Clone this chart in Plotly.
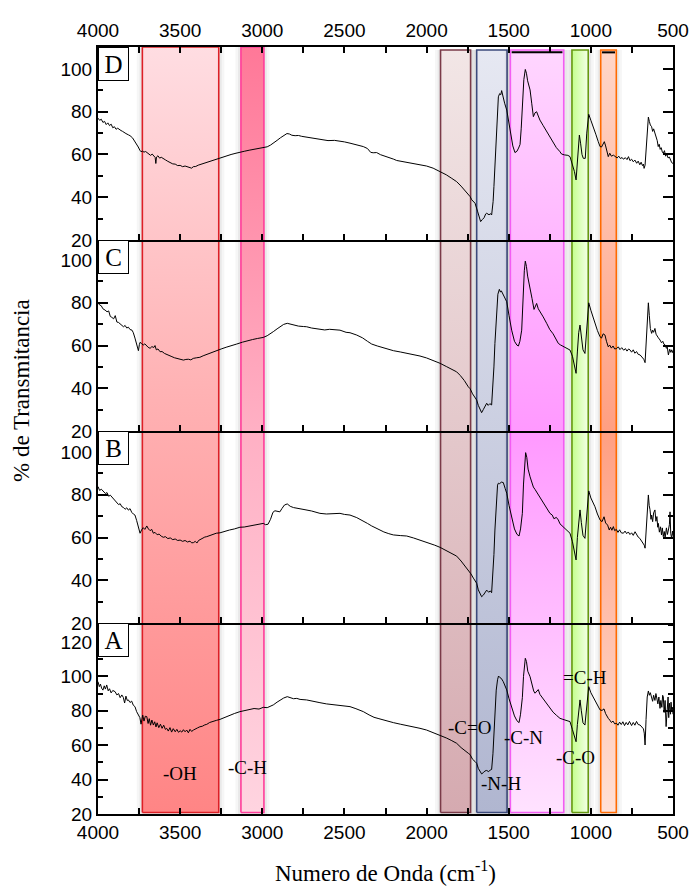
import plotly.graph_objects as go

# ---------------- DATA ----------------
panel_names = ["A", "B", "C", "D"]

spec_A = [(4000, 96.9), (3992, 94), (3985, 95.5), (3978, 93.1), (3970, 92), (3962, 94.5), (3955, 92.6), (3947, 95),
          (3938, 91.6), (3930, 92.8), (3920, 90.4), (3910, 91.8), (3896, 91.1), (3885, 89.2), (3875, 90), (3865, 87.6),
          (3855, 89.2), (3846, 87.8), (3838, 84.5), (3830, 88.5), (3822, 86), (3815, 86.3), (3805, 84.8), (3795, 85.6),
          (3785, 83.2), (3775, 82.4), (3765, 79.5), (3755, 77.6), (3745, 76), (3738, 72.2), (3734, 74.7), (3728, 77.5),
          (3720, 74), (3712, 76.8), (3703, 76.6), (3695, 72.6), (3688, 75.4), (3680, 71.6), (3672, 74.6), (3663, 71.7),
          (3655, 73.6), (3647, 70.6), (3640, 73), (3630, 70.2), (3620, 72.2), (3610, 69.8), (3600, 71.6), (3590, 69.2),
          (3582, 69.8), (3572, 68.2), (3562, 70.2), (3552, 67.6), (3542, 69.6), (3530, 67.8), (3520, 69.2), (3510, 67.5),
          (3500, 68.4), (3490, 67.6), (3480, 69), (3470, 67.8), (3460, 68.8), (3450, 67.2), (3440, 69.2), (3430, 68),
          (3419, 68.8), (3408, 69.6), (3395, 70), (3380, 70.7), (3365, 71), (3350, 71.8), (3338, 72.1), (3320, 73.2),
          (3300, 73.6), (3280, 74.4), (3257, 75), (3230, 76.2), (3200, 77.2), (3170, 78.4), (3136, 79.5), (3110, 80),
          (3080, 80.6), (3050, 81.3), (3020, 81), (2994, 82), (2970, 81.8), (2950, 82.6), (2933, 83.4), (2910, 85),
          (2890, 86.4), (2870, 87.4), (2848, 88.2), (2830, 87.6), (2810, 87), (2790, 87.2), (2770, 86.6), (2730, 86.3),
          (2700, 85.6), (2680, 85.2), (2649, 84.7), (2610, 84), (2570, 83.6), (2527, 83.4), (2500, 82.8), (2466, 82.4),
          (2430, 81.2), (2385, 79.5), (2350, 77.6), (2320, 76.2), (2290, 75.4), (2250, 74.2), (2202, 73.1), (2160, 72.2),
          (2120, 71.5), (2080, 70.6), (2040, 69.8), (2000, 68.8), (1960, 67.4), (1918, 65.9), (1880, 64.2), (1850, 62.8),
          (1817, 61.1), (1790, 58.6), (1765, 57), (1746, 55.3), (1735, 54.5), (1720, 51.8), (1705, 50.5), (1695, 49.5),
          (1685, 46.5), (1675, 44.5), (1665, 43.3), (1655, 44), (1645, 45), (1634, 45.3), (1622, 44.6), (1612, 45.6),
          (1604, 45.9), (1596, 55), (1590, 66), (1584, 76.6), (1576, 92), (1568, 98), (1562, 100.2), (1555, 99.4),
          (1545, 98.8), (1533, 96.9), (1522, 94.6), (1512, 92.1), (1498, 87), (1482, 82.4), (1465, 77), (1450, 74.2),
          (1437, 73.1), (1428, 78), (1417, 87.6), (1410, 100), (1403, 108), (1399, 110.5), (1392, 108.6), (1384, 103),
          (1370, 99.8), (1358, 94.5), (1348, 91.5), (1340, 90.2), (1330, 91.5), (1320, 92.3), (1310, 89.5), (1295, 87.6),
          (1280, 85.8), (1269, 84.4), (1250, 81.5), (1230, 79.2), (1210, 77.4), (1188, 75.6), (1170, 75), (1150, 74.4),
          (1127, 73.7), (1112, 69), (1100, 65), (1090, 62), (1082, 72), (1074, 82), (1066, 86.3), (1058, 80),
          (1048, 73), (1036, 71.7), (1028, 80), (1020, 89), (1013, 94), (1000, 90.5), (988, 88.5), (975, 86.3),
          (960, 83), (944, 80.5), (932, 80.2), (920, 81.1), (910, 78.3), (900, 76.4), (894, 75.6), (885, 74.6),
          (875, 73.2), (865, 74), (855, 72.4), (843, 72.7), (835, 71.6), (825, 73.4), (815, 72), (805, 73.6),
          (795, 71.4), (785, 73.2), (775, 71.8), (765, 73.8), (761, 72.7), (752, 71.4), (742, 73.2), (732, 71.6),
          (722, 73.8), (712, 72), (700, 71.7), (690, 70.4), (680, 69.5), (675, 67), (670, 60.1), (664, 75),
          (657, 88), (650, 91.5), (644, 89), (638, 90.5), (630, 88.2), (624, 85.5), (618, 89), (610, 86),
          (604, 90), (599, 87.2), (592, 84), (586, 88), (579, 81.4), (574, 86), (568, 82), (563, 89),
          (559, 88.2), (554, 79), (548, 86), (542, 70.8), (536, 79), (530, 88), (526, 76), (522, 84.4),
          (515, 78), (512, 85), (508, 80.5), (503, 82), (500, 78)]

spec_B = [(4000, 83.8), (3990, 82), (3980, 82.6), (3968, 81.4), (3955, 80.6), (3945, 81), (3935, 79.3), (3925, 79.8),
          (3907, 78.3), (3895, 77.2), (3885, 76.5), (3875, 75.4), (3865, 75.8), (3855, 74.4), (3846, 74.1), (3835, 73.2),
          (3825, 73.9), (3815, 72.8), (3805, 73.5), (3795, 71.8), (3785, 71), (3775, 70.5), (3765, 68), (3755, 64.5),
          (3748, 62.5), (3744, 62), (3735, 63.5), (3725, 64.6), (3715, 63.8), (3703, 65.4), (3693, 64), (3683, 63.2),
          (3673, 63.8), (3663, 62), (3653, 62.4), (3640, 61.3), (3628, 61.6), (3615, 60.6), (3602, 60.1), (3590, 60.4),
          (3575, 59.5), (3560, 59.8), (3545, 59), (3530, 59.3), (3515, 58.6), (3500, 58.8), (3485, 58.2), (3470, 58.6),
          (3455, 57.9), (3440, 58.3), (3430, 57.5), (3419, 57.6), (3408, 58.2), (3398, 57.4), (3388, 58.6), (3375, 59.2),
          (3360, 59.6), (3350, 60.2), (3338, 60.4), (3320, 61), (3300, 61.4), (3280, 62), (3257, 62.2), (3230, 62.9),
          (3200, 63.5), (3170, 64), (3136, 64.8), (3110, 64.9), (3080, 65.3), (3054, 65.9), (3030, 66.2), (3010, 66.3),
          (2994, 66.6), (2980, 66), (2965, 66.2), (2950, 68.5), (2935, 71.8), (2923, 72.5), (2910, 72.2), (2893, 72.0),
          (2880, 73.6), (2865, 75.2), (2848, 75.7), (2830, 74.6), (2810, 74), (2790, 73.8), (2770, 73.6), (2740, 73),
          (2700, 72.4), (2680, 72), (2649, 71.3), (2610, 71), (2570, 71.2), (2527, 71.3), (2500, 70.8), (2466, 70.5),
          (2425, 69.3), (2390, 68), (2360, 66.6), (2334, 65.4), (2300, 64), (2260, 62.6), (2230, 61.8), (2202, 61.2),
          (2160, 60.9), (2121, 60.7), (2080, 59.8), (2040, 58.8), (2000, 58), (1979, 57.3), (1950, 56.4), (1918, 55.4),
          (1880, 53.8), (1850, 52.6), (1817, 51.3), (1790, 49), (1765, 46.5), (1746, 44.8), (1730, 43), (1715, 41),
          (1695, 38.6), (1685, 35.5), (1675, 33.5), (1665, 32.3), (1655, 33), (1645, 34.5), (1634, 35.4), (1622, 34.4),
          (1612, 35), (1604, 34.2), (1596, 42), (1590, 52), (1584, 63.5), (1576, 78), (1568, 84.5), (1563, 85.4),
          (1555, 85.2), (1545, 85.9), (1533, 85.7), (1522, 83), (1512, 80.7), (1498, 75), (1482, 69.7), (1465, 64),
          (1450, 61.5), (1437, 60.7), (1428, 64), (1417, 71.3), (1410, 85), (1403, 95), (1397, 99.7), (1390, 97.5),
          (1382, 92), (1370, 88.4), (1360, 85.5), (1350, 83.6), (1340, 82.5), (1325, 80.6), (1310, 79.1), (1290, 76),
          (1270, 73.6), (1249, 71.3), (1235, 70.5), (1225, 68.8), (1210, 69.4), (1198, 68.2), (1188, 66.4), (1170, 65),
          (1150, 63.6), (1127, 62), (1112, 58), (1100, 53.5), (1090, 49.5), (1082, 60), (1074, 69), (1066, 72.9),
          (1058, 67), (1048, 61), (1036, 59.6), (1028, 68), (1020, 77), (1013, 81.8), (1000, 78.5), (988, 76.5),
          (975, 74.4), (960, 71), (944, 68.2), (932, 67.4), (920, 69.7), (910, 66.8), (898, 65.8), (888, 63.5),
          (880, 64.8), (872, 63.4), (863, 65.1), (855, 63.2), (845, 63.8), (835, 62.4), (825, 63.6), (815, 62.2),
          (802, 62), (792, 63), (782, 61.8), (772, 62.6), (762, 61.4), (752, 62.2), (742, 61), (731, 62.7),
          (722, 61.1), (712, 60.2), (702, 59.6), (692, 58.4), (682, 57.2), (675, 56.4), (670, 55), (664, 63),
          (657, 75), (650, 79.9), (645, 75), (640, 73), (634, 68.5), (630, 70.5), (624, 67.4), (618, 71.5),
          (610, 72.9), (604, 67.6), (598, 69.8), (593, 64.8), (589, 66.6), (583, 62.5), (576, 65), (570, 61.2),
          (565, 64.5), (559, 60.4), (553, 62.8), (548, 59.8), (540, 64.5), (534, 61.4), (528, 63.5), (522, 66),
          (518, 72), (514, 62), (508, 59.6), (503, 63), (500, 61)]

spec_C = [(4000, 80), (3990, 79), (3980, 78.6), (3970, 77.2), (3957, 76.6), (3945, 75.8), (3935, 76.2), (3925, 73.6),
          (3916, 73.2), (3905, 72.5), (3895, 74), (3885, 71), (3875, 70.8), (3865, 70.2), (3855, 69.5), (3845, 68.8),
          (3835, 69.4), (3825, 68.2), (3815, 68.6), (3805, 67.5), (3793, 67.2), (3785, 66), (3775, 63.5), (3768, 61),
          (3760, 59.5), (3754, 57.6), (3748, 60.5), (3744, 61.5), (3735, 61), (3725, 60.2), (3715, 60.8), (3705, 59.8),
          (3695, 59.2), (3683, 58.7), (3672, 59.5), (3660, 59.1), (3653, 60), (3645, 58), (3635, 58.4), (3622, 57.1),
          (3610, 57.2), (3595, 56.3), (3580, 55.9), (3565, 55.4), (3550, 54.8), (3535, 54.3), (3521, 54), (3505, 53.7),
          (3490, 53.4), (3480, 53.2), (3465, 53.5), (3450, 53.6), (3435, 53.3), (3420, 54), (3399, 54.3), (3380, 54.5),
          (3360, 55.2), (3340, 55.8), (3320, 56.6), (3300, 57.2), (3277, 57.9), (3250, 58.4), (3220, 59.2), (3190, 59.8),
          (3156, 60.7), (3120, 61.6), (3090, 62.3), (3060, 62.8), (3030, 63.3), (2994, 63.8), (2970, 64.6), (2950, 65.5),
          (2933, 66.5), (2910, 67.8), (2890, 69), (2870, 69.9), (2848, 70.4), (2830, 70), (2810, 69.4), (2780, 69.1),
          (2750, 68.9), (2730, 68.8), (2700, 68.2), (2680, 68), (2649, 67.6), (2620, 67.3), (2590, 67.6), (2560, 67.4),
          (2527, 67.2), (2490, 66.2), (2466, 66), (2425, 64.9), (2390, 63.6), (2360, 62), (2334, 60.7), (2300, 59.8),
          (2260, 58.8), (2230, 58.2), (2202, 57.6), (2160, 57), (2120, 56.4), (2080, 55.8), (2040, 55.1), (2000, 54.2),
          (1960, 53), (1918, 51.7), (1880, 50.2), (1850, 49), (1817, 47.7), (1795, 46), (1770, 43.6), (1746, 40.7),
          (1735, 39.8), (1720, 37.4), (1705, 35.6), (1695, 34.5), (1685, 32), (1675, 30), (1665, 28.6), (1655, 30),
          (1645, 31.5), (1634, 33), (1625, 32), (1615, 32.8), (1604, 32.2), (1596, 40), (1590, 50), (1584, 61),
          (1575, 76), (1566, 84), (1557, 86.3), (1550, 85), (1545, 85.6), (1533, 83.5), (1522, 82), (1512, 80.5),
          (1498, 74), (1482, 67.2), (1465, 62), (1450, 60.2), (1441, 59.8), (1432, 62), (1421, 67.2), (1413, 83),
          (1405, 95), (1399, 99.5), (1392, 97), (1385, 92.5), (1370, 87.5), (1358, 82), (1346, 76.9), (1338, 78.5),
          (1330, 79.7), (1320, 77.2), (1305, 75.5), (1290, 73.4), (1269, 70.4), (1250, 67.5), (1230, 65.5), (1215, 63.6),
          (1198, 61), (1185, 60.3), (1170, 59.6), (1150, 58.8), (1127, 57.9), (1112, 55), (1100, 51), (1090, 47),
          (1082, 57), (1074, 66), (1066, 69.6), (1058, 64), (1048, 58), (1036, 56.3), (1028, 66), (1020, 75.5),
          (1013, 80), (1000, 76.5), (990, 74), (975, 70.4), (960, 67), (944, 64.1), (935, 63.5), (925, 65.5),
          (914, 64.9), (905, 62), (894, 59.4), (885, 60.2), (875, 58.8), (865, 59.8), (855, 58.4), (843, 58.6),
          (833, 59.4), (823, 58.1), (812, 59), (800, 57.8), (790, 58.6), (780, 57.4), (770, 58.4), (761, 57.9),
          (752, 56.9), (742, 58), (732, 56.4), (722, 57.2), (712, 55.9), (700, 55.6), (692, 55), (685, 54.2),
          (678, 53.6), (670, 52), (664, 62), (657, 75), (650, 80), (644, 74), (638, 68), (630, 65.7),
          (624, 67.2), (618, 66.2), (610, 68), (603, 65.3), (596, 64.2), (589, 63.6), (579, 62.6), (570, 61.3),
          (562, 62), (555, 60.6), (548, 60.3), (540, 58.7), (535, 59.3), (528, 55.6), (520, 58.3), (513, 56.8),
          (508, 58), (500, 56.5)]

spec_D = [(4000, 77), (3990, 76), (3980, 76.5), (3970, 75), (3960, 75.5), (3950, 74), (3940, 74.8), (3930, 73.5),
          (3920, 74.2), (3910, 72.5), (3900, 73), (3890, 71.8), (3880, 72.3), (3870, 71.5), (3860, 71.2), (3850, 70.8),
          (3840, 70.2), (3830, 69.8), (3815, 69.2), (3805, 68.8), (3790, 67.8), (3775, 66.2), (3765, 65), (3755, 63.5),
          (3745, 62), (3738, 61.3), (3730, 61.6), (3720, 61.1), (3710, 61.4), (3700, 60.9), (3690, 60.5), (3680, 59.6),
          (3670, 60.2), (3660, 59.2), (3652, 58.6), (3648, 55.8), (3644, 58.8), (3635, 59.4), (3625, 58.3), (3615, 58.7),
          (3600, 57.8), (3590, 57.5), (3575, 56.8), (3560, 56.3), (3545, 55.6), (3530, 55.5), (3515, 54.8), (3500, 54.9),
          (3485, 54.3), (3470, 54.6), (3455, 54.2), (3440, 54.0), (3430, 53.6), (3420, 54.3), (3405, 54.4), (3390, 55),
          (3375, 55.4), (3360, 55.5), (3340, 56.2), (3320, 56.5), (3300, 57.2), (3280, 57.8), (3250, 58.6), (3220, 59.4),
          (3190, 60), (3160, 60.6), (3136, 60.9), (3110, 61.5), (3080, 62), (3050, 62.4), (3020, 62.9), (2994, 63.2),
          (2970, 63.6), (2950, 64.4), (2933, 65.2), (2910, 66.6), (2890, 67.8), (2870, 68.8), (2850, 69.8), (2835, 69.6),
          (2820, 69), (2800, 68.8), (2780, 68.9), (2760, 68.5), (2720, 68), (2680, 67.4), (2649, 66.8), (2600, 66.5),
          (2560, 66.6), (2527, 66.3), (2500, 65.9), (2466, 65.3), (2430, 64.6), (2400, 64.2), (2385, 63.7), (2360, 62.8),
          (2340, 61.0), (2325, 60.8), (2304, 60.9), (2280, 59.9), (2240, 59), (2200, 57.8), (2182, 57.2), (2150, 56.8),
          (2100, 56.2), (2060, 55.6), (2040, 55.1), (2000, 54.6), (1960, 53.6), (1918, 52), (1880, 50.5), (1850, 49),
          (1817, 47.3), (1790, 45.2), (1765, 43), (1746, 41.1), (1735, 40.3), (1725, 38.8), (1705, 37.2), (1690, 33.5),
          (1680, 30.5), (1671, 28.6), (1660, 29.6), (1650, 30.4), (1640, 32.2), (1634, 32.5), (1620, 31.8), (1610, 32.3),
          (1604, 31.7), (1595, 38), (1590, 45), (1584, 54.3), (1575, 73), (1567, 83), (1563, 87), (1555, 88.5),
          (1548, 88), (1543, 89.9), (1535, 86.5), (1525, 84), (1512, 80.8), (1500, 75.5), (1488, 69.9), (1475, 64),
          (1462, 60.9), (1450, 61.5), (1440, 63), (1431, 64.7), (1424, 72), (1417, 85.5), (1408, 95), (1399, 99.8),
          (1392, 98), (1385, 94.5), (1375, 91.5), (1370, 90.2), (1360, 84), (1350, 77.7), (1340, 79.5), (1330, 80),
          (1320, 78), (1310, 76.1), (1290, 73.5), (1270, 70.8), (1250, 68.2), (1229, 65.2), (1210, 63.2), (1190, 61.5),
          (1178, 60.2), (1160, 59.8), (1140, 59.6), (1127, 59), (1110, 55), (1100, 52), (1090, 48.1), (1082, 58),
          (1075, 66), (1070, 69.1), (1062, 65), (1054, 60), (1046, 58.2), (1034, 58.2), (1025, 70), (1013, 78.8),
          (1000, 76), (985, 73), (970, 69.5), (955, 66), (944, 63.7), (935, 63.5), (925, 65.2), (918, 66),
          (910, 64), (900, 61), (894, 59), (885, 60.6), (875, 59.2), (863, 59.7), (850, 59.1), (840, 58.4),
          (830, 59.2), (820, 58.1), (810, 58.6), (802, 57.8), (790, 58.5), (780, 57.6), (771, 59), (762, 57.1),
          (752, 57.8), (742, 56.6), (732, 57.4), (721, 55.9), (712, 56.9), (702, 55.2), (694, 56.4), (686, 54.8),
          (680, 55.5), (676, 53.5), (670, 55), (664, 63.7), (656, 74), (650, 77.5), (644, 75.5), (638, 73.8),
          (630, 73), (624, 70.8), (618, 72), (610, 70), (603, 68), (596, 66.5), (590, 63.7), (584, 64.8),
          (578, 62.4), (572, 63.2), (565, 61.2), (559, 60.6), (552, 61.8), (545, 59.2), (538, 60.3), (530, 58.4),
          (522, 58.8), (515, 57.2), (508, 56.2), (500, 55.8)]

spectra = [spec_A, spec_B, spec_C, spec_D]

band_names = ["-OH", "-C-H", "-C=O", "-N-H", "-C-N", "-C-O", "=C-H"]
band_ranges = [(3730, 3265), (3130, 2990), (1915, 1732), (1695, 1510), (1490, 1165), (1115, 1016), (940, 845)]

x_ticks = [4000, 3500, 3000, 2500, 2000, 1500, 1000, 500]

# ---------------- STYLE ----------------
SANS = "Liberation Sans, Arial, sans-serif"
SERIF = "Liberation Serif, Times New Roman, serif"

band_border = ["#dd1f26", "#ff3d9a", "#7a3a48", "#3c4a7c", "#f35cf3", "#669911", "#ff6a00"]
band_grad_type = ["vertical", "vertical", "vertical", "vertical", "vertical", "horizontal", "vertical"]
band_grad = [
    [[0, "#ff8585"], [0.55, "#ffb2b4"], [1, "#ffdde2"]],
    [[0, "#ffd4e0"], [0.5, "#ffb0c4"], [1, "#ff7898"]],
    [[0, "#d5aab0"], [1, "#f2e6e6"]],
    [[0, "#b0b6d0"], [1, "#e6e8f2"]],
    [[0, "#ffe2ff"], [0.5, "#ff99ff"], [1, "#ffd6ff"]],
    [[0, "#c4ff8c"], [1, "#f4ffe8"]],
    [[0, "#ffe0d6"], [0.5, "#ff9f82"], [1, "#ffd6c8"]],
]
band_top = [1.0, 1.0, 0.996, 0.996, 0.996, 0.996, 0.996]
capped = ["-C-N", "=C-H"]
label_pos = {"-OH": (3501, 43.8), "-C-H": (3089, 47.3), "-C=O": (1736, 70), "-N-H": (1547, 38),
             "-C-N": (1413, 64.2), "-C-O": (1093, 53.1), "=C-H": (1036, 99.1)}

domains = [[0, 0.249], [0.249, 0.4993], [0.4993, 0.7484], [0.7484, 1.0]]
yranges = [[20, 131], [20, 109.8], [20, 109.4], [20, 110.3]]

fig = go.Figure()

# bands on a full-height hidden subplot (drawn first, beneath the spectra)
for name, (a, b), col, gt, gs, yt in zip(band_names, band_ranges, band_border, band_grad_type, band_grad, band_top):
    # soft blurred shadow (two translucent halos)
    for pad, alpha in ((34, 0.035), (18, 0.05)):
        fig.add_trace(go.Scatter(
            x=[a + pad, b - pad, b - pad, a + pad, a + pad], y=[0, 0, yt, yt, 0], mode="lines",
            fill="toself", fillcolor=f"rgba(0,0,0,{alpha})", line=dict(width=0),
            xaxis="x", yaxis="y", hoverinfo="skip", showlegend=False))
    fig.add_trace(go.Scatter(
        x=[a, b, b, a, a], y=[0.002, 0.002, yt, yt, 0.002], mode="lines", fill="toself",
        fillgradient=dict(type=gt, colorscale=gs), line=dict(color=col, width=1.6),
        xaxis="x", yaxis="y", hoverinfo="skip", showlegend=False))
    if name in capped:
        fig.add_trace(go.Scatter(x=[a - 8, b + 8], y=[0.993, 0.993], mode="lines",
                                 line=dict(color="black", width=2), xaxis="x", yaxis="y",
                                 hoverinfo="skip", showlegend=False))

layout = dict(
    width=691, height=888, autosize=False,
    margin=dict(l=98, r=18, t=47, b=74, autoexpand=False),
    paper_bgcolor="white", plot_bgcolor="rgba(0,0,0,0)",
    showlegend=False,
    xaxis=dict(domain=[0, 1], range=[4000, 500], visible=False, anchor="y", automargin=False),
    yaxis=dict(domain=[0, 1], range=[0, 1], visible=False, anchor="x", automargin=False),
)

annotations = []
for i, (pname, spec) in enumerate(zip(panel_names, spectra)):
    n = i + 2
    xs = [p[0] for p in spec]
    ys = [p[1] for p in spec]
    fig.add_trace(go.Scatter(x=xs, y=ys, mode="lines", line=dict(color="black", width=1),
                             xaxis=f"x{n}", yaxis=f"y{n}", hoverinfo="skip", showlegend=False))
    top = pname == "D"
    bottom = pname == "A"
    layout[f"xaxis{n}"] = dict(
        domain=[0, 1], anchor=f"y{n}", range=[4000, 500], showgrid=False, zeroline=False,
        showline=True, linecolor="black", linewidth=2, automargin=False,
        mirror="ticks" if top else False, side="top" if top else "bottom",
        ticks="inside", ticklen=6, tickwidth=1.5, tickcolor="black",
        tickvals=x_ticks, ticktext=[str(v) for v in x_ticks],
        showticklabels=top or bottom,
        tickfont=dict(family=SANS, size=19, color="black"),
        minor=dict(dtick=250, tick0=500, ticks="inside", ticklen=6, tickwidth=1.5, tickcolor="black"),
    )
    layout[f"yaxis{n}"] = dict(
        domain=domains[i], anchor=f"x{n}", range=yranges[i], showgrid=False, zeroline=False,
        showline=True, linecolor="black", linewidth=2, mirror="ticks", automargin=False,
        ticks="inside", ticklen=10, tickwidth=1.5, tickcolor="black",
        tick0=20, dtick=20,
        tickfont=dict(family=SANS, size=19, color="black"),
        minor=dict(dtick=10, tick0=20, ticks="inside", ticklen=5, tickwidth=1.5, tickcolor="black"),
    )
    annotations.append(dict(
        text=pname, xref=f"x{n} domain", yref=f"y{n} domain", x=0, y=1,
        xanchor="left", yanchor="top", showarrow=False,
        font=dict(family=SERIF, size=25, color="black"),
        bgcolor="white", bordercolor="black", borderwidth=1, borderpad=1, width=27, height=30))

for name in band_names:
    wx, wy = label_pos[name]
    annotations.append(dict(text=name, x=wx, y=wy, xref="x2", yref="y2", showarrow=False,
                            xanchor="center", yanchor="middle",
                            font=dict(family=SERIF, size=19, color="black")))

annotations.append(dict(text="% de Transmitancia", textangle=-90, xref="paper", yref="paper",
                        x=(22 - 98) / 575, y=0.5515, xanchor="center", yanchor="middle", showarrow=False,
                        font=dict(family=SERIF, size=23, color="black")))
annotations.append(dict(text="Numero de Onda (cm<sup>-1</sup>)", xref="paper", yref="paper",
                        x=0.5, y=-(871 - 814) / 767, xanchor="center", yanchor="middle", showarrow=False,
                        font=dict(family=SERIF, size=23, color="black")))

layout["annotations"] = annotations
fig.update_layout(**layout)
fig.write_html("out.html")
